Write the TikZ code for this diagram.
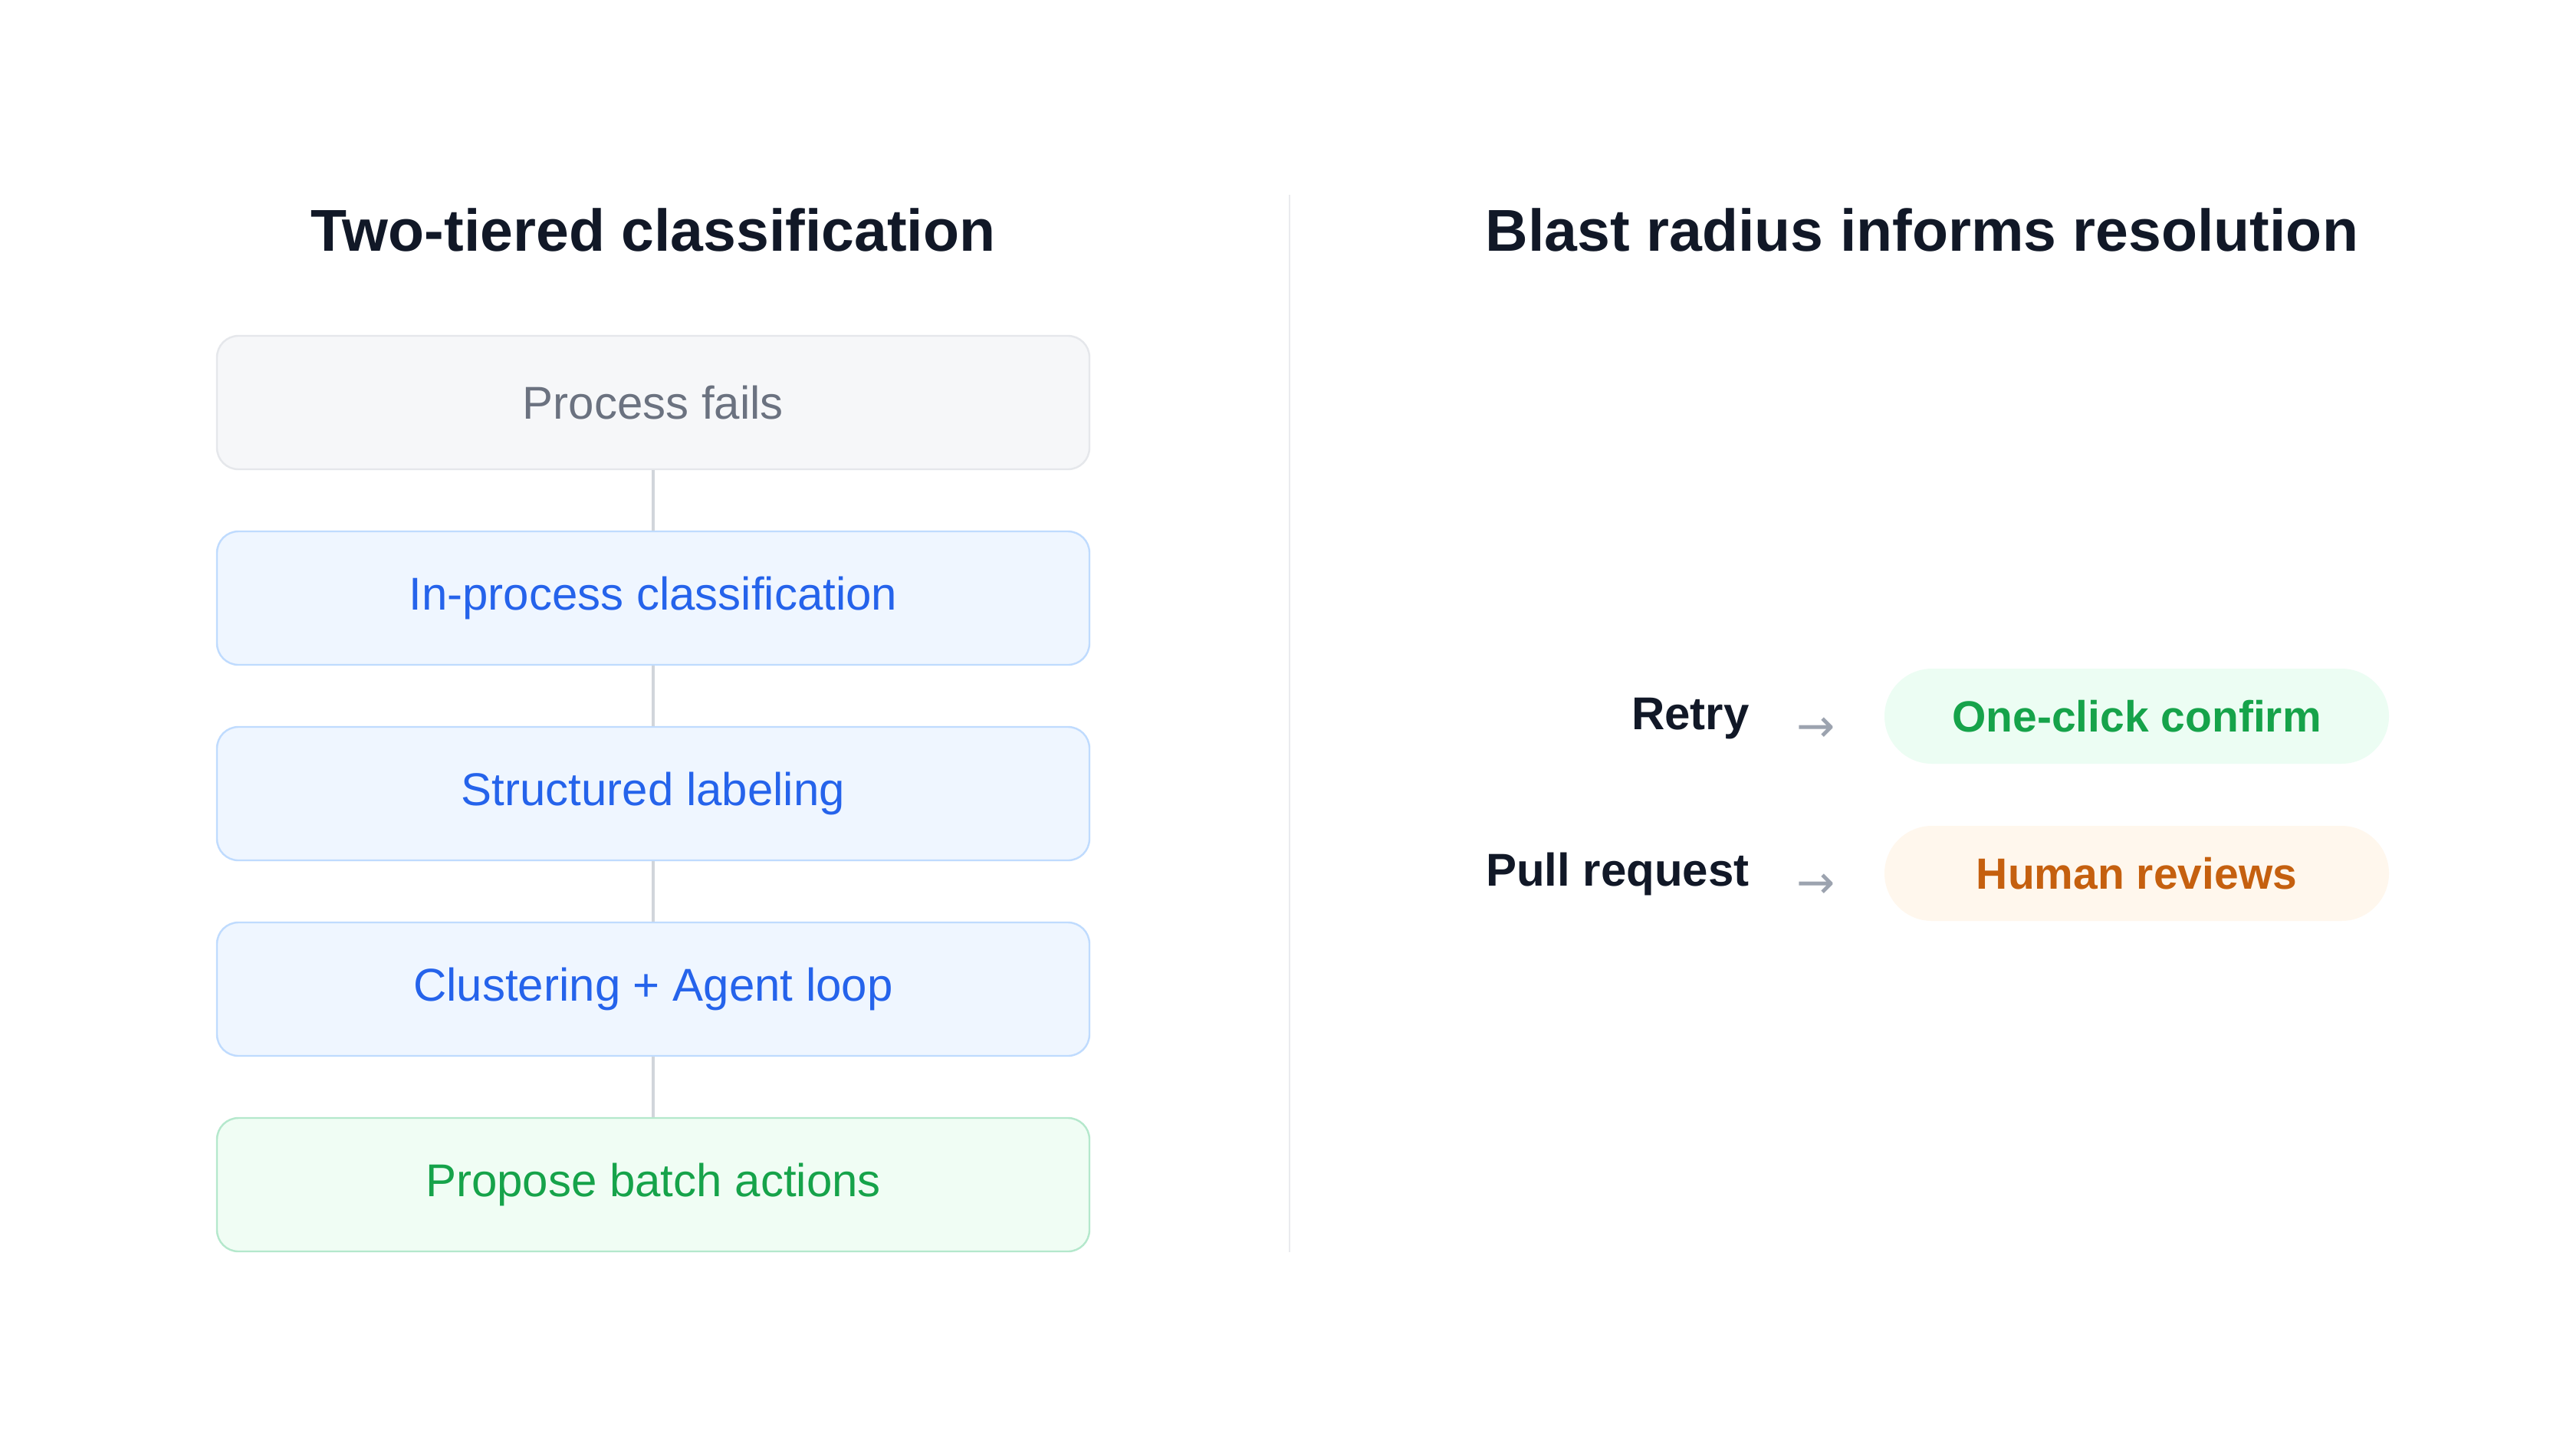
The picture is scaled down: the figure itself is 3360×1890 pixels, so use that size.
\documentclass[tikz,border=0pt]{standalone}
\usepackage{fontspec}
\setmainfont{Liberation Sans}
\newfontfamily\arrowfont{DejaVu Sans}
\definecolor{titlec}{HTML}{111827}
\definecolor{graytxt}{HTML}{6B7280}
\definecolor{grayfill}{HTML}{F6F7F9}
\definecolor{grayline}{HTML}{E5E7EB}
\definecolor{bluetxt}{HTML}{2563EB}
\definecolor{bluefill}{HTML}{EFF6FF}
\definecolor{blueline}{HTML}{BFDBFE}
\definecolor{greentxt}{HTML}{16A34A}
\definecolor{greenfill}{HTML}{F0FDF4}
\definecolor{greenline}{HTML}{B4E8CC}
\definecolor{pillgreen}{HTML}{ECFDF3}
\definecolor{pillorange}{HTML}{FFF7ED}
\definecolor{orangetxt}{HTML}{C5600F}
\definecolor{connc}{HTML}{D1D5DB}
\definecolor{arrowc}{HTML}{9CA3AF}
\definecolor{divc}{HTML}{EAEBEE}
\begin{document}
\begin{tikzpicture}[x=0.5pt,y=-0.5pt,
  titletxt/.style={font=\fontsize{38.5}{44}\selectfont\bfseries, text=titlec, inner sep=0pt},
  stepbox/.style={draw, line width=1.2pt, rounded corners=14pt, minimum width=569pt, minimum height=87pt, inner sep=0pt, font=\fontsize{30}{36}\selectfont},
  graybox/.style={stepbox, fill=grayfill, draw=grayline, text=graytxt},
  bluebox/.style={stepbox, fill=bluefill, draw=blueline, text=bluetxt},
  greenbox/.style={stepbox, fill=greenfill, draw=greenline, text=greentxt},
  conn/.style={draw=connc, line width=1.6pt},
  lbl/.style={font=\fontsize{30}{36}\selectfont\bfseries, text=titlec, inner sep=0pt, anchor=base east},
  arr/.style={font=\arrowfont\fontsize{30}{34}\selectfont, text=arrowc, inner sep=0pt},
  pill/.style={rounded corners=31pt, minimum width=329pt, minimum height=62pt, inner sep=0pt, font=\fontsize{28.5}{34}\selectfont\bfseries}
]
\useasboundingbox[fill=white] (0,0) rectangle (3360,1890);

% titles
\node[titletxt, anchor=base] (t1) at (852,327) {Two-tiered classification};
\node[titletxt, anchor=base] (t2) at (2507,327) {Blast radius informs resolution};

% divider
\coordinate (d1) at (1682,254);
\coordinate (d2) at (1682,1633);
\draw[draw=divc, line width=1pt] (d1) -- (d2);

% left boxes
\node[graybox]  (b1) at (852,525)  {Process fails};
\node[bluebox]  (b2) at (852,780)  {In-process classification};
\node[bluebox]  (b3) at (852,1035) {Structured labeling};
\node[bluebox]  (b4) at (852,1290) {Clustering + Agent loop};
\node[greenbox] (b5) at (852,1545) {Propose batch actions};

\draw[conn] (b1.south) -- (b2.north);
\draw[conn] (b2.south) -- (b3.north);
\draw[conn] (b3.south) -- (b4.north);
\draw[conn] (b4.south) -- (b5.north);

% right side
\node[lbl] (r1) at (2282,951) {Retry};
\node[lbl] (r2) at (2282,1155) {Pull request};
\node[arr] (a1) at (2369,952) {→};
\node[arr] (a2) at (2369,1156) {→};
\node[pill, fill=pillgreen, text=greentxt] (p1) at (2787,934) {One-click confirm};
\node[pill, fill=pillorange, text=orangetxt] (p2) at (2787,1139) {Human reviews};
\end{tikzpicture}
\end{document}
